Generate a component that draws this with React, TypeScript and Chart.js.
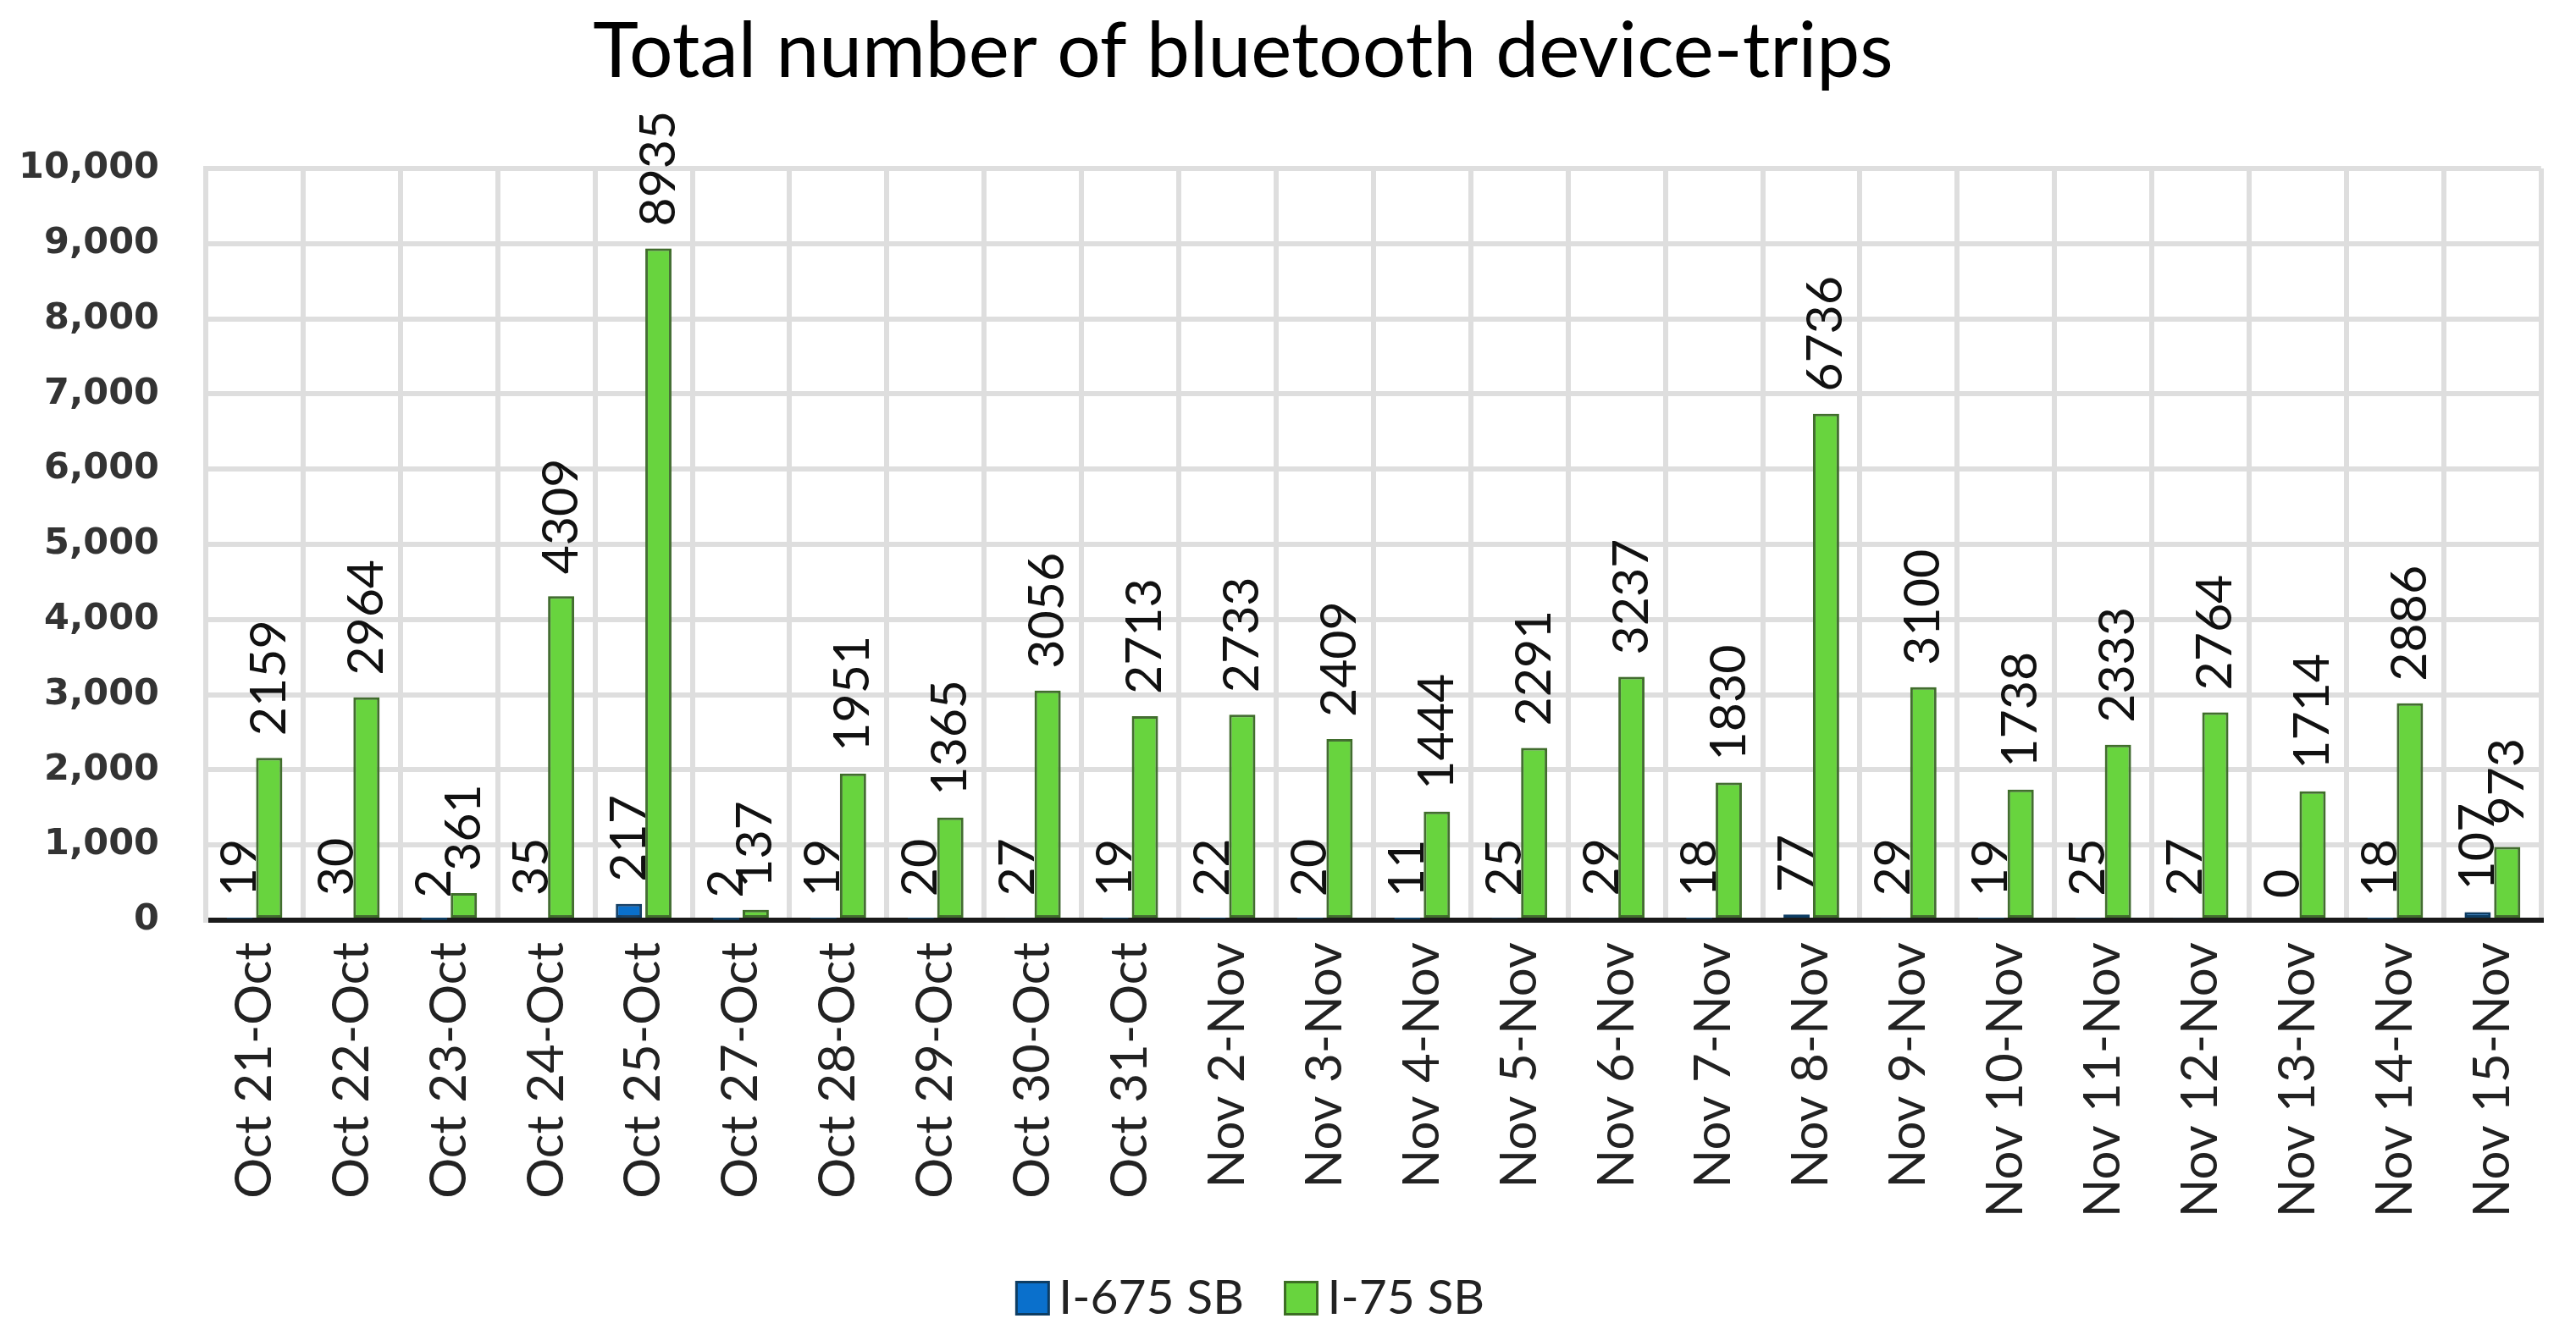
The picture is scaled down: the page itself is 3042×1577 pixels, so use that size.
import React, { useEffect, useRef } from 'react';
import { Chart, registerables } from 'chart.js';

Chart.register(...registerables);

const chartTitle = 'Total number of bluetooth device-trips';
const categories = [
  'Oct 21-Oct', 'Oct 22-Oct', 'Oct 23-Oct', 'Oct 24-Oct', 'Oct 25-Oct', 'Oct 27-Oct',
  'Oct 28-Oct', 'Oct 29-Oct', 'Oct 30-Oct', 'Oct 31-Oct', 'Nov 2-Nov', 'Nov 3-Nov',
  'Nov 4-Nov', 'Nov 5-Nov', 'Nov 6-Nov', 'Nov 7-Nov', 'Nov 8-Nov', 'Nov 9-Nov',
  'Nov 10-Nov', 'Nov 11-Nov', 'Nov 12-Nov', 'Nov 13-Nov', 'Nov 14-Nov', 'Nov 15-Nov',
];
const seriesNames = ['I-675 SB', 'I-75 SB'];
const i675sb = [19, 30, 2, 35, 217, 2, 19, 20, 27, 19, 22, 20, 11, 25, 29, 18, 77, 29, 19, 25, 27, 0, 18, 107];
const i75sb = [2159, 2964, 361, 4309, 8935, 137, 1951, 1365, 3056, 2713, 2733, 2409, 1444, 2291, 3237, 1830, 6736, 3100, 1738, 2333, 2764, 1714, 2886, 973];
const yMin = 0;
const yMax = 10000;
const yStep = 1000;

const barLook = {
  id: 'barLook',
  afterLayout(chart: any) {
    if (chart.titleBlock) {
      chart.titleBlock.left = 0;
      chart.titleBlock.right = 2936;
    }
    if (chart.legend) {
      chart.legend.left = 0;
      chart.legend.right = 2970;
    }
  },
  beforeDatasetsDraw(chart: any) {
    const ctx = chart.ctx;
    ctx.save();
    ctx.shadowColor = 'rgba(120,110,140,0.45)';
    ctx.shadowBlur = 7;
  },
  afterDatasetsDraw(chart: any) {
    const ctx = chart.ctx;
    ctx.restore();
    ctx.save();
    ctx.font = '59px Lato';
    ctx.fillStyle = '#111111';
    ctx.textAlign = 'left';
    ctx.textBaseline = 'middle';
    chart.data.datasets.forEach((ds: any, di: number) => {
      const meta = chart.getDatasetMeta(di);
      meta.data.forEach((el: any, i: number) => {
        ctx.save();
        ctx.translate(el.x, el.y - 26);
        ctx.rotate(-Math.PI / 2);
        ctx.fillText(String(ds.data[i]), 0, 0);
        ctx.restore();
      });
    });
    ctx.restore();
  },
};

export default function App() {
  const ref = useRef<HTMLCanvasElement | null>(null);
  useEffect(() => {
    document.body.style.margin = '0';
    document.body.style.overflow = 'hidden';
    const canvas = ref.current!;
    const chart = new Chart(canvas, {
      type: 'bar',
      data: {
        labels: categories,
        datasets: [
          {
            label: seriesNames[0],
            data: i675sb,
            backgroundColor: '#0a70cc',
            borderColor: '#0d3d63',
            borderWidth: 3,
            borderSkipped: false,
            barPercentage: 0.886,
            categoryPercentage: 0.607,
          },
          {
            label: seriesNames[1],
            data: i75sb,
            backgroundColor: '#68d43e',
            borderColor: '#3c6e24',
            borderWidth: 3,
            borderSkipped: false,
            barPercentage: 0.886,
            categoryPercentage: 0.607,
          },
        ],
      },
      options: {
        responsive: false,
        animation: false,
        devicePixelRatio: 1,
        layout: { padding: { left: 0, right: 32, top: 0, bottom: 5 } },
        plugins: {
          title: {
            display: true,
            text: chartTitle,
            color: '#000000',
            font: { family: 'Lato', size: 91, weight: 'normal', lineHeight: 1 },
            padding: { top: 16, bottom: 92 },
          },
          legend: {
            display: true,
            position: 'bottom',
            labels: {
              color: '#222222',
              font: { family: 'Lato', size: 57 },
              usePointStyle: true,
              pointStyle: 'rect',
              boxWidth: 5,
              boxHeight: 38,
              padding: 65,
            },
          },
          tooltip: { enabled: false },
        },
        scales: {
          x: {
            afterFit: (s: any) => { s.height = 1440 - 1087; },
            grid: { offset: true, color: '#dedede', lineWidth: 6, drawTicks: false },
            border: { color: '#1a1a1a', width: 6 },
            ticks: {
              autoSkip: false,
              maxRotation: 90,
              minRotation: 90,
              padding: 26,
              color: '#222222',
              font: { family: 'Lato', size: 60 },
            },
          },
          y: {
            min: yMin,
            max: yMax,
            afterFit: (s: any) => { s.width = 243; },
            grid: { color: '#dedede', lineWidth: 6, drawTicks: false },
            border: { color: '#dedede', width: 6 },
            ticks: {
              stepSize: yStep,
              padding: 55,
              color: '#333333',
              font: { family: 'DejaVu Sans', size: 43, weight: 'bold' },
              callback: (v: any) => Number(v).toLocaleString('en-US'),
            },
          },
        },
      },
      plugins: [barLook],
    });
    return () => chart.destroy();
  }, []);
  return (
    <div style={{ width: 3042, height: 1577 }}>
      <canvas ref={ref} width={3042} height={1577} style={{ display: 'block' }} />
    </div>
  );
}
